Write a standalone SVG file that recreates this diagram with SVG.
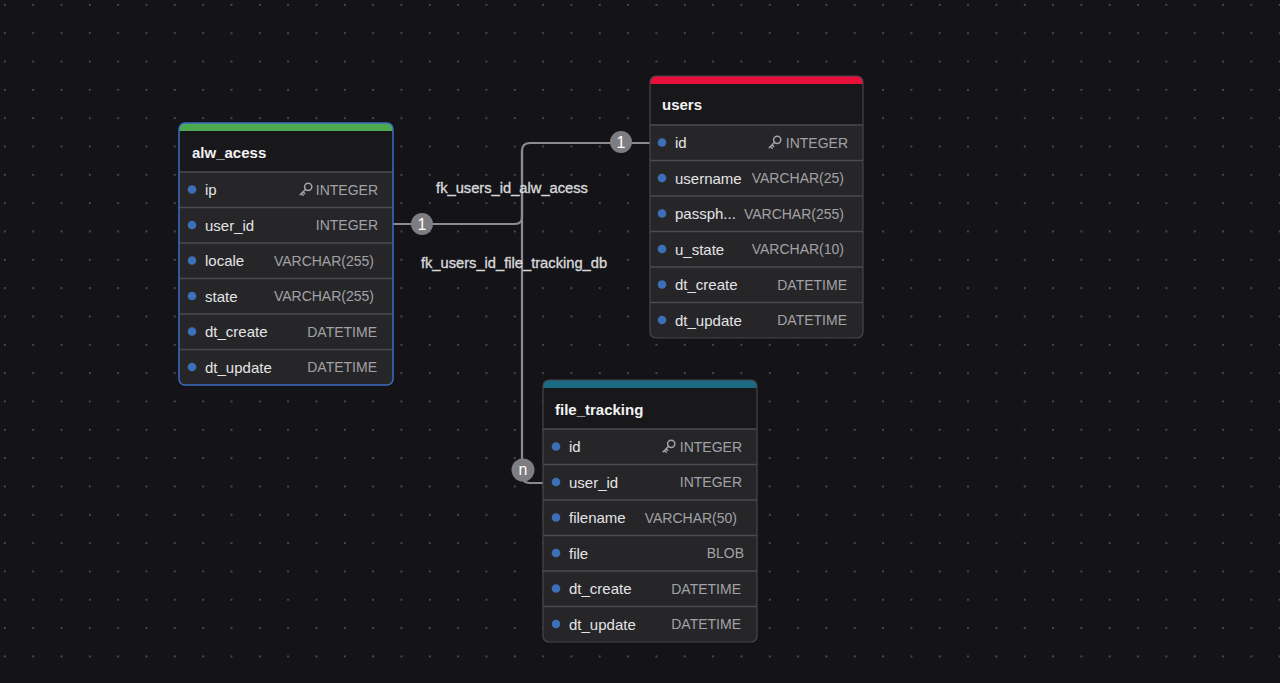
<svg xmlns="http://www.w3.org/2000/svg" width="1280" height="683" viewBox="0 0 1280 683">
<defs>
<pattern id="grid" x="0" y="0" width="28.33" height="28.33" patternUnits="userSpaceOnUse">
<rect x="4" y="4" width="1.6" height="1.6" fill="#5c616c"/>
</pattern>
<symbol id="key" viewBox="0 0 14 14" overflow="visible">
<circle cx="9.2" cy="4.8" r="3.6" fill="none" stroke="#a4a4a8" stroke-width="1.5"/>
<path d="M6.7 7.3 L1.2 12.8 M2.5 11.5 L4.2 13.2 M4.1 9.9 L5.7 11.5" fill="none" stroke="#a4a4a8" stroke-width="1.5" stroke-linecap="round"/>
</symbol>
</defs>
<style>
.bg{fill:#141418}
.body{fill:#262629}
.head{fill:#18181b}
.border{fill:none;stroke:#46464b;stroke-width:1.2}
.sel{fill:none;stroke:#3a6cc0;stroke-width:1.5}
.sep{stroke:#4a4a50;stroke-width:1.5}
.title{font-family:"Liberation Sans",Arial,sans-serif;font-weight:bold;font-size:15px;fill:#f2f2f2}
.name{font-family:"Liberation Sans",Arial,sans-serif;font-size:15px;fill:#e4e4e6}
.type{font-family:"Liberation Sans",Arial,sans-serif;font-size:14px;fill:#a2a2a6;text-anchor:end}
.dot{fill:#3d6fb8}
.conn{fill:none;stroke:#8c8c8e;stroke-width:2.2}
.card{fill:#7e7e80}
.cardt{font-family:"Liberation Sans",Arial,sans-serif;font-size:16px;fill:#ffffff;text-anchor:middle}
.lbl{font-family:"Liberation Sans",Arial,sans-serif;font-size:14.7px;fill:#d8d8da;stroke:#d8d8da;stroke-width:0.35;text-anchor:middle}
</style>
<rect class="bg" x="0" y="0" width="1280" height="683"/>
<rect fill="url(#grid)" x="0" y="0" width="1280" height="683"/>

<g id="connectors">
<path class="conn" d="M393 224 H515 Q522 224 522 217 V151 Q522 143 530 143 H650"/>
<path class="conn" d="M522 150 V475 Q522 483 530 483 H543"/>
<circle class="card" cx="422" cy="224" r="11"/>
<text class="cardt" x="422" y="229.5">1</text>
<circle class="card" cx="621" cy="142" r="11"/>
<text class="cardt" x="621" y="147.5">1</text>
<circle class="card" cx="523" cy="470" r="11.5"/>
<text class="cardt" x="523" y="475">n</text>
<text class="lbl" x="512" y="193">fk_users_id_alw_acess</text>
<text class="lbl" x="514" y="268">fk_users_id_file_tracking_db</text>
</g>

<g id="alw_acess" transform="translate(179,123)">
<rect class="body" x="0" y="0" width="214" height="262" rx="6"/>
<path d="M0 8 V6 A6 6 0 0 1 6 0 H208 A6 6 0 0 1 214 6 V8 Z" fill="#4ea84f"/>
<rect class="head" x="0" y="8" width="214" height="41"/>
<text class="title" x="13" y="35">alw_acess</text>
<line class="sep" x1="0" y1="49" x2="214" y2="49"/>
<line class="sep" x1="0" y1="84.5" x2="214" y2="84.5"/>
<line class="sep" x1="0" y1="120" x2="214" y2="120"/>
<line class="sep" x1="0" y1="155.5" x2="214" y2="155.5"/>
<line class="sep" x1="0" y1="191" x2="214" y2="191"/>
<line class="sep" x1="0" y1="226.5" x2="214" y2="226.5"/>
<circle class="dot" cx="13" cy="66.5" r="4.3"/><text class="name" x="26" y="72">ip</text><use href="#key" x="120" y="59" width="14" height="14"/><text class="type" x="199" y="71.5">INTEGER</text>
<circle class="dot" cx="13" cy="102" r="4.3"/><text class="name" x="26" y="107.5">user_id</text><text class="type" x="199" y="107">INTEGER</text>
<circle class="dot" cx="13" cy="137.5" r="4.3"/><text class="name" x="26" y="143">locale</text><text class="type" x="195" y="142.5">VARCHAR(255)</text>
<circle class="dot" cx="13" cy="173" r="4.3"/><text class="name" x="26" y="178.5">state</text><text class="type" x="195" y="178">VARCHAR(255)</text>
<circle class="dot" cx="13" cy="208.5" r="4.3"/><text class="name" x="26" y="214">dt_create</text><text class="type" x="198" y="213.5">DATETIME</text>
<circle class="dot" cx="13" cy="244" r="4.3"/><text class="name" x="26" y="249.5">dt_update</text><text class="type" x="198" y="249">DATETIME</text>
<rect class="sel" x="0" y="0" width="214" height="262" rx="6"/>
</g>

<g id="users" transform="translate(650,76)">
<rect class="body" x="0" y="0" width="213" height="262" rx="6"/>
<path d="M0 8 V6 A6 6 0 0 1 6 0 H207 A6 6 0 0 1 213 6 V8 Z" fill="#e8103a"/>
<rect class="head" x="0" y="8" width="213" height="41"/>
<text class="title" x="12" y="34">users</text>
<line class="sep" x1="0" y1="49" x2="213" y2="49"/>
<line class="sep" x1="0" y1="84.5" x2="213" y2="84.5"/>
<line class="sep" x1="0" y1="120" x2="213" y2="120"/>
<line class="sep" x1="0" y1="155.5" x2="213" y2="155.5"/>
<line class="sep" x1="0" y1="191" x2="213" y2="191"/>
<line class="sep" x1="0" y1="226.5" x2="213" y2="226.5"/>
<circle class="dot" cx="12" cy="66.5" r="4.3"/><text class="name" x="25" y="72">id</text><use href="#key" x="118" y="59" width="14" height="14"/><text class="type" x="198" y="71.5">INTEGER</text>
<circle class="dot" cx="12" cy="102" r="4.3"/><text class="name" x="25" y="107.5">username</text><text class="type" x="194" y="107">VARCHAR(25)</text>
<circle class="dot" cx="12" cy="137.5" r="4.3"/><text class="name" x="25" y="143">passph...</text><text class="type" x="194" y="142.5">VARCHAR(255)</text>
<circle class="dot" cx="12" cy="173" r="4.3"/><text class="name" x="25" y="178.5">u_state</text><text class="type" x="194" y="178">VARCHAR(10)</text>
<circle class="dot" cx="12" cy="208.5" r="4.3"/><text class="name" x="25" y="214">dt_create</text><text class="type" x="197" y="213.5">DATETIME</text>
<circle class="dot" cx="12" cy="244" r="4.3"/><text class="name" x="25" y="249.5">dt_update</text><text class="type" x="197" y="249">DATETIME</text>
<rect class="border" x="0" y="0" width="213" height="262" rx="6"/>
</g>

<g id="file_tracking" transform="translate(543,380)">
<rect class="body" x="0" y="0" width="214" height="262" rx="6"/>
<path d="M0 8 V6 A6 6 0 0 1 6 0 H208 A6 6 0 0 1 214 6 V8 Z" fill="#1d6a85"/>
<rect class="head" x="0" y="8" width="214" height="41"/>
<text class="title" x="12" y="35">file_tracking</text>
<line class="sep" x1="0" y1="49" x2="214" y2="49"/>
<line class="sep" x1="0" y1="84.5" x2="214" y2="84.5"/>
<line class="sep" x1="0" y1="120" x2="214" y2="120"/>
<line class="sep" x1="0" y1="155.5" x2="214" y2="155.5"/>
<line class="sep" x1="0" y1="191" x2="214" y2="191"/>
<line class="sep" x1="0" y1="226.5" x2="214" y2="226.5"/>
<circle class="dot" cx="13" cy="66.5" r="4.3"/><text class="name" x="26" y="72">id</text><use href="#key" x="119" y="59" width="14" height="14"/><text class="type" x="199" y="71.5">INTEGER</text>
<circle class="dot" cx="13" cy="102" r="4.3"/><text class="name" x="26" y="107.5">user_id</text><text class="type" x="199" y="107">INTEGER</text>
<circle class="dot" cx="13" cy="137.5" r="4.3"/><text class="name" x="26" y="143">filename</text><text class="type" x="194" y="142.5">VARCHAR(50)</text>
<circle class="dot" cx="13" cy="173" r="4.3"/><text class="name" x="26" y="178.5">file</text><text class="type" x="201" y="178">BLOB</text>
<circle class="dot" cx="13" cy="208.5" r="4.3"/><text class="name" x="26" y="214">dt_create</text><text class="type" x="198" y="213.5">DATETIME</text>
<circle class="dot" cx="13" cy="244" r="4.3"/><text class="name" x="26" y="249.5">dt_update</text><text class="type" x="198" y="249">DATETIME</text>
<rect class="border" x="0" y="0" width="214" height="262" rx="6"/>
</g>
</svg>
